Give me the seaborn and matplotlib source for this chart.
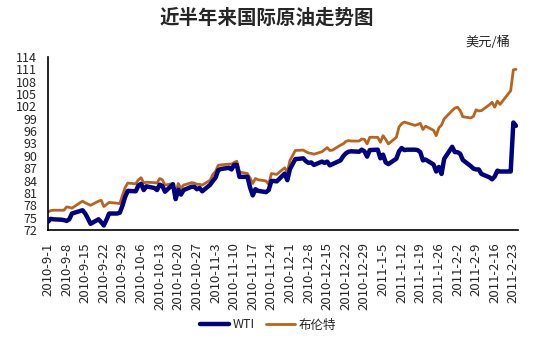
import matplotlib
matplotlib.use("Agg")
import matplotlib.pyplot as plt
import seaborn as sns
import pandas as pd
import numpy as np

# ---- data ----
dates = pd.bdate_range("2010-09-01", "2011-02-24")

wti = [
    # Sep
    74.0, 74.7, 74.6, 74.5, 74.4, 74.2, 74.6, 76.0, 76.6, 76.8, 76.0, 74.8, 73.5,
    74.6, 73.9, 73.1, 74.5, 76.0, 76.0, 76.2, 77.9, 80.0,
    # Oct
    81.5, 81.4, 82.8, 83.2, 81.7, 82.6, 82.2, 81.7, 83.0, 82.7, 81.3, 83.1, 79.5,
    81.8, 80.6, 81.7, 82.5, 82.5, 81.9, 82.2, 81.4,
    # Nov
    83.0, 83.9, 84.7, 86.5, 86.8, 87.1, 86.7, 87.8, 87.8, 84.9, 84.9, 82.3, 80.4,
    81.9, 81.5, 81.2, 81.7, 83.9, 83.9, 83.8, 85.7, 84.1,
    # Dec
    86.8, 88.0, 89.2, 89.4, 88.7, 88.3, 88.4, 87.8, 88.6, 88.3, 88.6, 87.7, 88.0,
    88.9, 89.9, 90.6, 91.0, 91.1, 91.0, 91.5, 91.1, 89.8, 91.4,
    # Jan
    91.5, 89.4, 90.3, 88.4, 88.0, 89.3, 91.1, 91.9, 91.4, 91.5, 91.5, 91.4, 90.9,
    88.9, 89.1, 87.9, 86.2, 87.3, 85.6, 89.3, 92.2,
    # Feb
    90.9, 90.9, 90.5, 89.0, 87.5, 86.9, 86.7, 86.7, 85.6, 84.8, 84.3, 85.0, 86.4,
    86.2, 86.2, 86.2, 98.1, 97.3,
]

brent = [
    # Sep
    76.4, 76.7, 76.8, 76.8, 76.8, 77.6, 77.5, 77.3, 78.6, 79.0, 78.6, 78.3, 78.0,
    79.0, 79.2, 77.7, 78.2, 78.7, 78.5, 78.4, 80.4, 82.3,
    # Oct
    83.4, 83.2, 84.2, 84.7, 83.4, 83.6, 83.5, 83.4, 84.5, 84.2, 82.9, 83.3, 80.9,
    83.3, 82.1, 82.9, 83.5, 83.4, 83.1, 83.1, 82.9,
    # Nov
    84.1, 85.5, 86.2, 87.7, 87.8, 88.0, 88.0, 88.4, 88.7, 86.1, 85.7, 84.6, 83.3,
    84.5, 84.2, 83.9, 83.1, 85.7, 85.6, 85.5, 87.1, 86.1,
    # Dec
    88.9, 90.1, 91.3, 91.4, 91.0, 90.7, 90.6, 90.4, 91.0, 91.5, 92.0, 91.3, 91.4,
    92.6, 92.9, 93.5, 93.7, 93.6, 93.6, 94.1, 94.0, 92.9, 94.5,
    # Jan
    94.5, 93.3, 94.9, 94.0, 92.9, 94.5, 97.0, 97.8, 98.2, 98.0, 97.4, 97.6, 97.9,
    96.4, 97.2, 96.2, 94.9, 96.8, 97.5, 99.0, 101.0,
    # Feb
    101.6, 101.8, 101.0, 99.5, 99.2, 99.6, 101.2, 100.9, 101.0, 102.4, 103.0, 101.8,
    103.3, 102.5, 105.0, 105.8, 110.9, 111.0,
]

series_names = ["WTI", "布伦特"]
colors = ["#000080", "#B8641E"]
tick_dates = pd.date_range("2010-09-01", "2011-02-23", freq="7D")
tick_labels = [f"{d.year}-{d.month}-{d.day}" for d in tick_dates]
y_ticks = list(range(72, 115, 3))

df = pd.DataFrame({
    "date": list(dates) * 2,
    "price": wti + brent,
    "series": [series_names[0]] * len(dates) + [series_names[1]] * len(dates),
})

# ---- plot ----
sns.set_style("white")
plt.rcParams["font.family"] = ["Noto Sans CJK SC", "DejaVu Sans"]

fig = plt.figure(figsize=(5.35, 3.46), dpi=100)
ax = fig.add_axes([48 / 535, 116 / 346, 470 / 535, 173 / 346])

sns.lineplot(data=df, x="date", y="price", hue="series", hue_order=series_names,
             palette=colors, ax=ax, legend=False, estimator=None)
lines = ax.get_lines()
lines[0].set_linewidth(3.2)
lines[1].set_linewidth(2.0)
lines[0].set_zorder(3)

ax.set_xlim(pd.Timestamp("2010-09-01"), pd.Timestamp("2011-02-24 18:00"))
ax.set_ylim(72, 114)
ax.set_yticks(y_ticks)
ax.set_yticklabels([str(v) for v in y_ticks], fontsize=9)
ax.set_xticks(tick_dates)
ax.set_xticklabels(tick_labels, rotation=90, fontsize=9.5)
ax.tick_params(axis="both", direction="in", length=3, width=1, color="black", pad=8)
ax.tick_params(axis="x", pad=9)
ax.set_xlabel("")
ax.set_ylabel("")
for s in ["top", "right"]:
    ax.spines[s].set_visible(False)
for s in ["left", "bottom"]:
    ax.spines[s].set_color("black")
    ax.spines[s].set_linewidth(1.2)

fig.text(267 / 535, 1 - 18 / 346, "近半年来国际原油走势图", ha="center", va="center",
         fontsize=14, fontweight="bold")
fig.text(488 / 535, 1 - 42 / 346, "美元/桶", ha="center", va="center", fontsize=9.5)

fig.legend(handles=lines, labels=series_names, loc="center",
           bbox_to_anchor=(268 / 535, 1 - 325 / 346), ncol=2, frameon=False,
           fontsize=9, handlelength=2.3, handletextpad=0.3, columnspacing=0.9)

fig.savefig("out.png", dpi=100, facecolor="white")
